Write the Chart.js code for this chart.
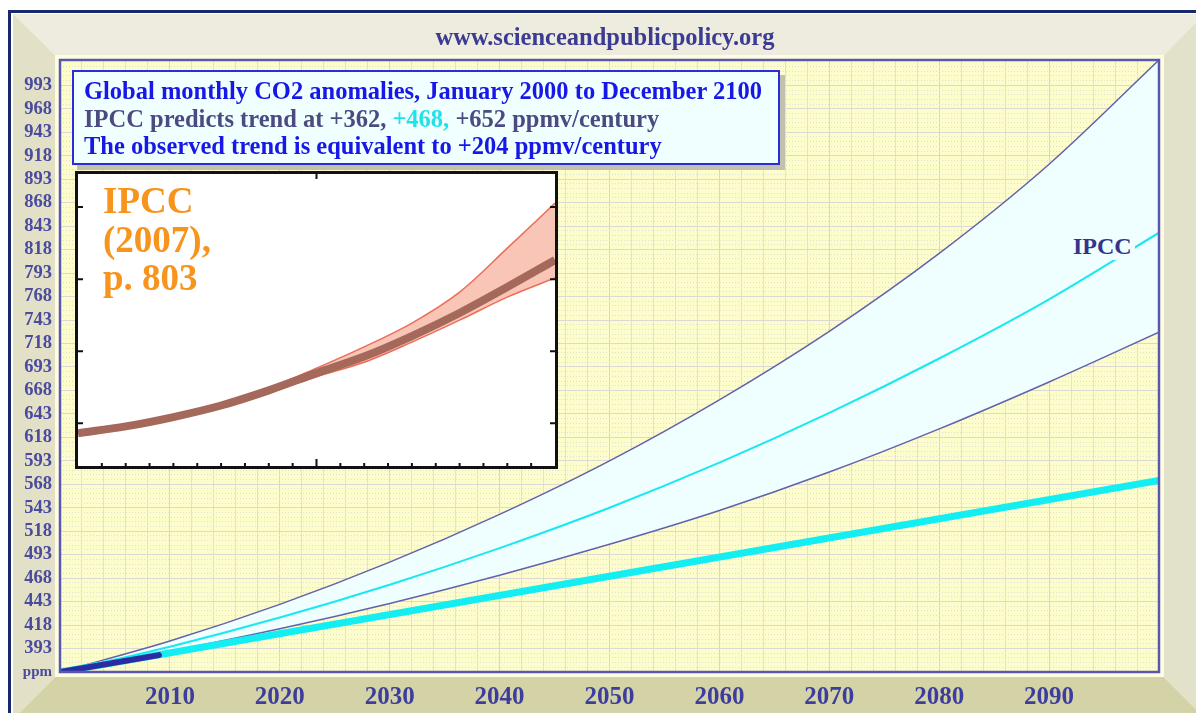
<!DOCTYPE html>
<html lang="en">
<head>
    <meta charset="UTF-8">
    <title>Global monthly CO2 anomalies 2000-2100</title>
    <script src="https://cdn.jsdelivr.net/npm/chart.js"></script>
    <style>
        body {
            margin: 0;
            width: 1196px;
            height: 713px;
            position: relative;
            overflow: hidden;
            background: #ffffff;
            font-family: 'Liberation Serif', 'Times New Roman', serif;
        }

        #main {
            position: absolute;
            left: 0;
            top: 0;
        }

        .site {
            position: absolute;
            left: 0;
            width: 1210px;
            top: 23px;
            text-align: center;
            font-size: 24.5px;
            font-weight: bold;
            color: #3b3b93;
        }

        .note {
            position: absolute;
            left: 72px;
            top: 70px;
            width: 708px;
            height: 95px;
            border: 2px solid #2d2dd8;
            background: #f0ffff;
            box-shadow: 5px 5px 0 #c2c1b0;
            padding: 5px 0 0 10px;
            box-sizing: border-box;
            font-size: 24.5px;
            line-height: 27.5px;
            font-weight: bold;
            white-space: nowrap;
        }

        .note .blue { color: #1717e6; }
        .note .grey { color: #4b4b80; }
        .note .cyan { color: #22e2e8; }

        .inset {
            position: absolute;
            left: 75px;
            top: 171px;
            width: 483px;
            height: 298px;
            border: 3px solid #111;
            box-sizing: border-box;
            background: #ffffff;
        }

        .inset canvas {
            position: absolute;
            left: 0;
            top: 0;
        }

        .inset-label {
            position: absolute;
            left: 25px;
            top: 8px;
            font-size: 37px;
            line-height: 38.5px;
            font-weight: bold;
            color: #f7941d;
        }

        .ipcc {
            position: absolute;
            left: 1070px;
            top: 233px;
            padding: 0 3px;
            font-size: 24px;
            font-weight: bold;
            color: #34348c;
            background: #effefe;
        }
    </style>
</head>
<body>

<canvas id="main" width="1196" height="713"></canvas>

<div class="site">www.scienceandpublicpolicy.org</div>

<div class="note">
    <div class="blue">Global monthly CO2 anomalies, January 2000 to December 2100</div>
    <div class="grey">IPCC predicts trend at +362, <span class="cyan">+468,</span> +652 ppmv/century</div>
    <div class="blue">The observed trend is equivalent to +204 ppmv/century</div>
</div>

<div class="inset">
    <canvas id="insetChart" width="477" height="292"></canvas>
    <div class="inset-label">IPCC<br>(2007),<br>p. 803</div>
</div>

<div class="ipcc">IPCC</div>

<script>
    // Main chart data (ppmv)
    const years = [2000, 2010, 2020, 2030, 2040, 2050, 2060, 2070, 2080, 2090, 2100];
    const ipccHigh = [368, 401, 440, 485, 536, 593, 658, 731, 814, 909, 1020];
    const ipccMid = [368, 395, 426, 461, 500, 543, 591, 644, 702, 765, 836];
    const ipccLow = [368, 390, 414, 441, 471, 504, 540, 581, 627, 677, 730];

    const trendYears = [2000, 2100];
    const trendPpm = [368, 572];

    const observedYears = [2000, 2009];
    const observedPpm = [368, 386];

    const yTickValues = [368, 393, 418, 443, 468, 493, 518, 543, 568, 593, 618, 643, 668, 693,
        718, 743, 768, 793, 818, 843, 868, 893, 918, 943, 968, 993];
    const xTickLabels = [2010, 2020, 2030, 2040, 2050, 2060, 2070, 2080, 2090];

    // Inset (IPCC 2007, p. 803) data
    const insetYears = [2000, 2010, 2020, 2030, 2040, 2050, 2060, 2070, 2080, 2090, 2100];
    const insetMid = [372, 391, 417, 449, 491, 539, 585, 642, 706, 778, 853];
    const insetHigh = [372, 392, 419, 453, 497, 553, 612, 678, 764, 886, 1011];
    const insetLow = [372, 390, 415, 446, 485, 529, 569, 625, 686, 750, 803];
    const insetYTicks = [400, 600, 800, 1000];

    const pts = (xs, ys) => xs.map((x, i) => ({ x: x, y: ys[i] }));
    const serif = "'Liberation Serif', 'Times New Roman', serif";

    // frame, bevel and plot background
    const framePlugin = {
        id: 'frame',
        beforeDraw(chart) {
            const c = chart.ctx;
            const a = chart.chartArea;
            c.save();
            c.fillStyle = '#ffffff';
            c.fillRect(0, 0, chart.width, chart.height);

            const o = { l: 13, t: 14, r: 1204, b: 713 };
            const i = { l: a.left - 5, t: a.top - 5, r: a.right + 5, b: a.bottom + 5 };
            const poly = (color, p) => {
                c.fillStyle = color;
                c.beginPath();
                c.moveTo(p[0][0], p[0][1]);
                p.slice(1).forEach(q => c.lineTo(q[0], q[1]));
                c.closePath();
                c.fill();
            };
            poly('#edecdf', [[o.l, o.t], [o.r, o.t], [i.r, i.t], [i.l, i.t]]);
            poly('#e2e1c7', [[o.l, o.t], [i.l, i.t], [i.l, i.b], [o.l, o.b + 6]]);
            poly('#d4d3a8', [[o.l, o.b + 6], [i.l, i.b], [i.r, i.b], [i.r + 40, o.b + 4]]);
            poly('#e2e1ca', [[o.r, o.t], [o.r, o.b], [i.r + 40, o.b + 4], [i.r, i.b], [i.r, i.t]]);

            c.strokeStyle = '#17296c';
            c.lineWidth = 3;
            c.strokeRect(9.5, 11.5, 1300, 800);

            c.fillStyle = '#fffddf';
            c.fillRect(i.l, i.t, i.r - i.l, i.b - i.t);
            c.fillStyle = '#fdfccb';
            c.fillRect(a.left, a.top, a.right - a.left, a.bottom - a.top);
            c.restore();
        },
        afterDraw(chart) {
            const c = chart.ctx;
            const a = chart.chartArea;
            c.save();
            c.strokeStyle = '#5858b2';
            c.lineWidth = 2.5;
            c.strokeRect(a.left, a.top, a.right - a.left, a.bottom - a.top);
            c.restore();
        }
    };

    const mainChart = new Chart(document.getElementById('main'), {
        type: 'line',
        data: {
            datasets: [
                {
                    label: 'Observed',
                    data: pts(observedYears, observedPpm),
                    borderColor: '#2c2ca2',
                    borderWidth: 6,
                    borderCapStyle: 'round'
                },
                {
                    label: 'Observed trend',
                    data: pts(trendYears, trendPpm),
                    borderColor: '#12eef2',
                    borderWidth: 7
                },
                {
                    label: 'IPCC mid',
                    data: pts(years, ipccMid),
                    borderColor: '#1ae8f0',
                    borderWidth: 2
                },
                {
                    label: 'IPCC high',
                    data: pts(years, ipccHigh),
                    borderColor: '#6262ab',
                    borderWidth: 1.5,
                    backgroundColor: '#effefe',
                    fill: 4
                },
                {
                    label: 'IPCC low',
                    data: pts(years, ipccLow),
                    borderColor: '#6262ab',
                    borderWidth: 1.5
                }
            ]
        },
        options: {
            responsive: false,
            animation: false,
            layout: { padding: { top: 60, right: 37, left: 0, bottom: 0 } },
            elements: {
                point: { radius: 0 },
                line: { cubicInterpolationMode: 'monotone' }
            },
            scales: {
                x: {
                    type: 'linear',
                    min: 2000,
                    max: 2100,
                    afterFit: s => { s.height = 41; },
                    border: { display: false },
                    grid: {
                        color: ctx => ctx.tick && ctx.tick.value % 10 === 0 ? '#d9d5d3' : '#e4e1d4',
                        drawTicks: false
                    },
                    ticks: {
                        stepSize: 2,
                        maxTicksLimit: 100,
                        autoSkip: false,
                        maxRotation: 0,
                        padding: 11,
                        color: '#3d3d9e',
                        font: { family: serif, size: 25, weight: 'bold' },
                        callback: v => xTickLabels.includes(v) ? String(v) : ''
                    }
                },
                y: {
                    min: 368,
                    max: 1020,
                    afterFit: s => { s.width = 60; },
                    afterBuildTicks: s => { s.ticks = yTickValues.map(v => ({ value: v })); },
                    border: { display: false },
                    grid: { color: '#dcd8d4', drawTicks: false },
                    ticks: {
                        autoSkip: false,
                        padding: 8,
                        color: '#4a4a9e',
                        font: ctx => ({ family: serif, size: ctx.tick && ctx.tick.value === 368 ? 15 : 18.5, weight: 'bold' }),
                        callback: v => v === 368 ? 'ppm' : String(v)
                    }
                },
                yMinor: {
                    position: 'left',
                    min: 368,
                    max: 1020,
                    afterFit: s => { s.width = 0; },
                    afterBuildTicks: s => {
                        const t = [];
                        for (let v = 373; v < 1020; v += 5) {
                            if ((v - 368) % 25 !== 0) t.push({ value: v });
                        }
                        s.ticks = t;
                    },
                    border: { display: false, dash: [1, 2] },
                    grid: { color: '#e2ded3', drawTicks: false },
                    ticks: { display: false }
                }
            },
            plugins: {
                legend: { display: false },
                tooltip: { enabled: false },
                filler: { drawTime: 'beforeDatasetsDraw' }
            }
        },
        plugins: [framePlugin]
    });

    // small inward tick marks of the inset box
    const insetTicks = {
        id: 'insetTicks',
        afterDraw(chart) {
            const c = chart.ctx;
            const sx = chart.scales.x;
            const sy = chart.scales.y;
            const w = chart.width;
            const h = chart.height;
            c.save();
            c.strokeStyle = '#111';
            c.lineWidth = 2;
            c.beginPath();
            insetYTicks.forEach(v => {
                const y = sy.getPixelForValue(v);
                c.moveTo(0, y); c.lineTo(5, y);
                c.moveTo(w - 5, y); c.lineTo(w, y);
            });
            for (let yr = 2005; yr < 2100; yr += 5) {
                const x = sx.getPixelForValue(yr);
                const len = yr === 2050 ? 7 : 3;
                c.moveTo(x, h); c.lineTo(x, h - len);
            }
            const xm = sx.getPixelForValue(2050);
            c.moveTo(xm, 0); c.lineTo(xm, 5);
            c.stroke();
            c.restore();
        }
    };

    const insetChart = new Chart(document.getElementById('insetChart'), {
        type: 'line',
        data: {
            datasets: [
                {
                    label: 'Central',
                    data: pts(insetYears, insetMid),
                    borderColor: '#a5695b',
                    borderWidth: 8
                },
                {
                    label: 'High',
                    data: pts(insetYears, insetHigh),
                    borderColor: '#ec6e58',
                    borderWidth: 1.5,
                    backgroundColor: '#f9c5b6',
                    fill: 2
                },
                {
                    label: 'Low',
                    data: pts(insetYears, insetLow),
                    borderColor: '#ec6e58',
                    borderWidth: 1.5
                }
            ]
        },
        options: {
            responsive: false,
            animation: false,
            layout: { padding: 0 },
            elements: {
                point: { radius: 0 },
                line: { cubicInterpolationMode: 'monotone' }
            },
            scales: {
                x: { type: 'linear', min: 2000, max: 2100, display: false },
                y: { min: 281, max: 1092, display: false }
            },
            plugins: {
                legend: { display: false },
                tooltip: { enabled: false },
                filler: { drawTime: 'beforeDatasetsDraw' }
            }
        },
        plugins: [insetTicks]
    });
</script>

</body>
</html>
